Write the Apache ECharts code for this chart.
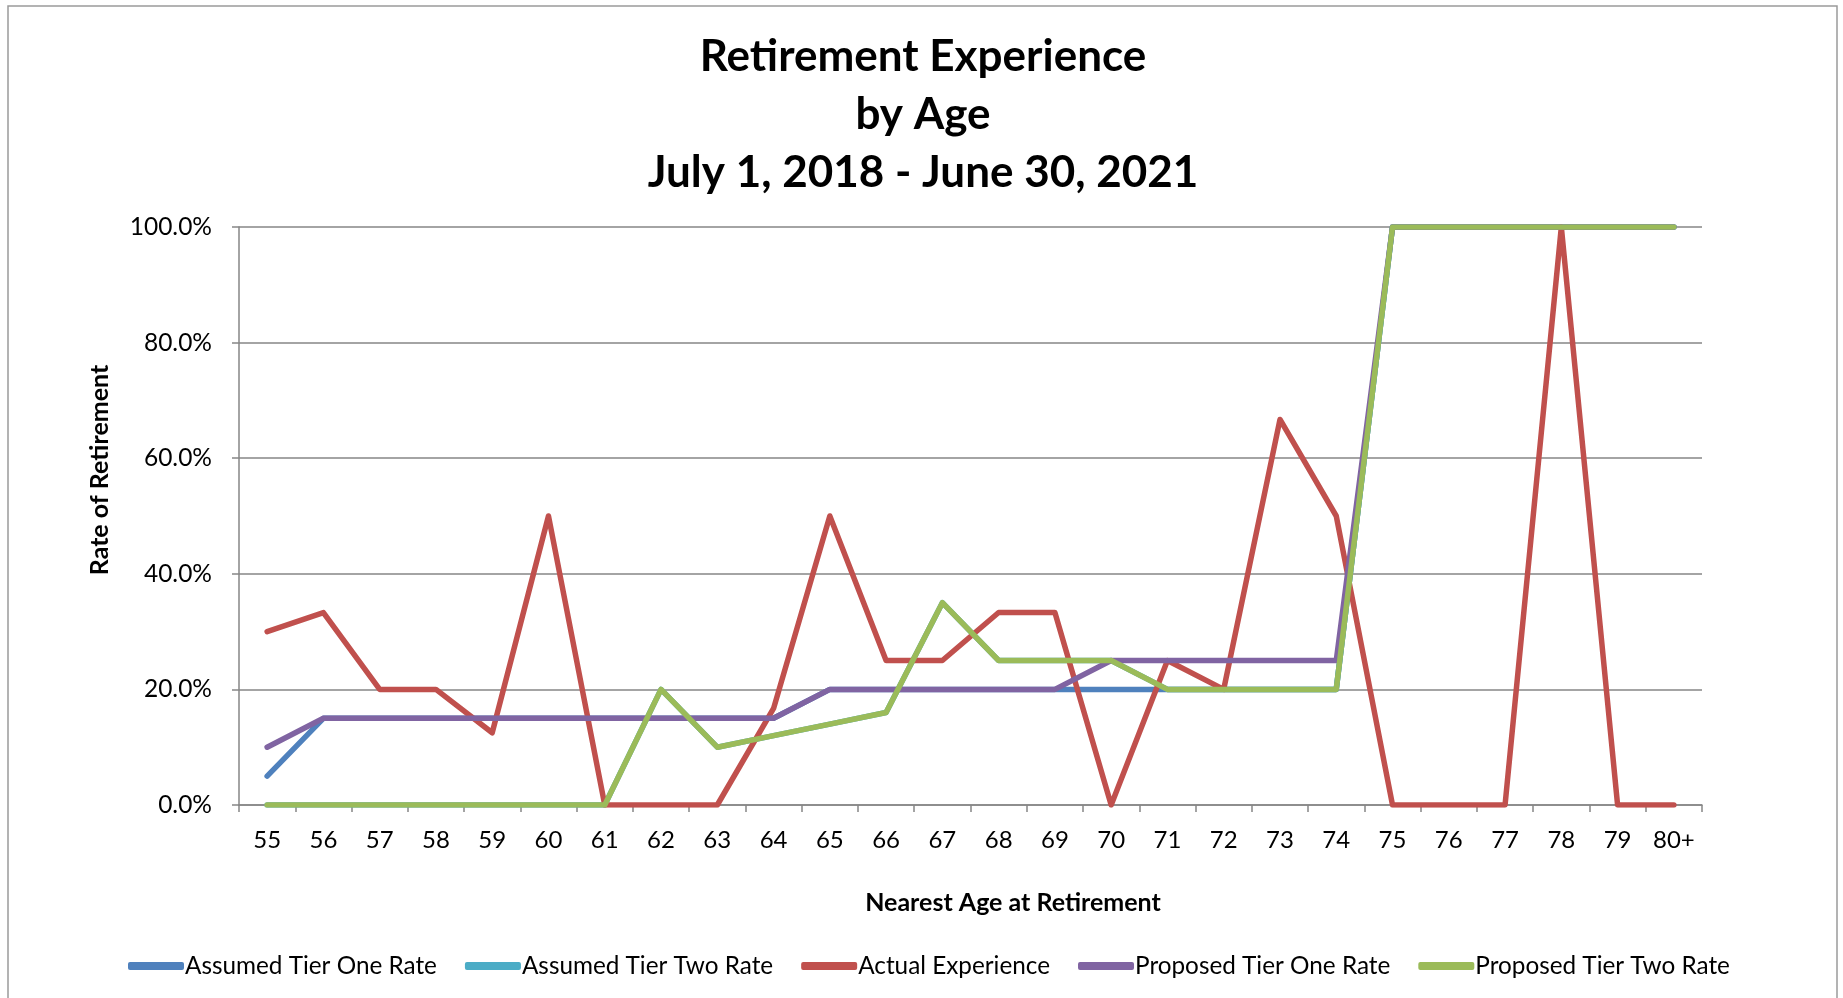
<!DOCTYPE html>
<html>
<head>
<meta charset="utf-8">
<script src="https://cdn.jsdelivr.net/npm/echarts@6/dist/echarts.min.js"></script>
<style>
  html, body { margin: 0; padding: 0; background: #fff; }
  #charts { width: 1843px; height: 998px; }
</style>
</head>
<body>
<div id="charts"></div>
<script>
// ages on the x axis
var ages = ["55", "56", "57", "58", "59", "60", "61", "62", "63", "64", "65", "66", "67",
    "68", "69", "70", "71", "72", "73", "74", "75", "76", "77", "78", "79", "80+"];
// rates in percent
var assumedTierOne = [5, 15, 15, 15, 15, 15, 15, 15, 15, 15, 20, 20, 20,
    20, 20, 20, 20, 20, 20, 20, 100, 100, 100, 100, 100, 100];
var assumedTierTwo = [0, 0, 0, 0, 0, 0, 0, 20, 10, 12, 14, 16, 35,
    25, 25, 25, 20, 20, 20, 20, 100, 100, 100, 100, 100, 100];
var actualExperience = [30, 33.3, 20, 20, 12.5, 50, 0, 0, 0, 16.7, 50, 25, 25,
    33.3, 33.3, 0, 25, 20, 66.7, 50, 0, 0, 0, 100, 0, 0];
var proposedTierOne = [10, 15, 15, 15, 15, 15, 15, 15, 15, 15, 20, 20, 20,
    20, 20, 25, 25, 25, 25, 25, 100, 100, 100, 100, 100, 100];
var proposedTierTwo = [0, 0, 0, 0, 0, 0, 0, 20, 10, 12, 14, 16, 35,
    25, 25, 25, 20, 20, 20, 20, 100, 100, 100, 100, 100, 100];
var yTicks = [0, 20, 40, 60, 80, 100];

const charts = echarts.init(document.getElementById('charts'));
var font = "Lato, 'Open Sans', sans-serif";
var gridColor = "#868686";

function lineSeries(name, color, data) {
    return {
        name: name,
        type: "line",
        symbol: "none",
        data: data,
        lineStyle: { color: color, width: 5.5, join: "round", cap: "round" },
        itemStyle: { color: color },
        emphasis: { disabled: true },
    };
}

let option = {
    animation: false,
    textStyle: { fontFamily: font },
    title: [
        {
            text: "Retirement Experience\nby Age\nJuly 1, 2018 - June 30, 2021",
            left: 923,
            top: 28,
            textAlign: "center",
            padding: 0,
            textStyle: {
                fontFamily: font,
                fontSize: 44,
                fontWeight: "bold",
                color: "#000",
                lineHeight: 58,
            },
        },
        {
            text: "Nearest Age at Retirement",
            left: 1013,
            top: 890,
            textAlign: "center",
            padding: 0,
            textStyle: { fontFamily: font, fontSize: 25, fontWeight: "bold", color: "#000" },
        },
    ],
    graphic: [
        {
            type: "rect",
            shape: { x: 8, y: 6, width: 1829, height: 1000 },
            style: { fill: null, stroke: "#9a9a9a", lineWidth: 1.5 },
            silent: true,
        },
        {
            type: "text",
            x: 100,
            y: 470,
            rotation: Math.PI / 2,
            style: {
                text: "Rate of Retirement",
                font: "bold 25px " + font,
                fill: "#000",
                align: "center",
                verticalAlign: "middle",
            },
            silent: true,
        },
    ],
    grid: {
        left: 239,
        right: 141,
        top: 227,
        bottom: 193,
        containLabel: false,
    },
    legend: {
        data: ["Assumed Tier One Rate", "Assumed Tier Two Rate", "Actual Experience",
            "Proposed Tier One Rate", "Proposed Tier Two Rate"],
        left: 123,
        top: 949,
        itemWidth: 56,
        itemHeight: 8,
        itemGap: 28,
        icon: "roundRect",
        textStyle: { fontFamily: font, fontSize: 24.3, color: "#000", padding: [0, 0, 0, -4] },
    },
    xAxis: {
        type: "category",
        data: ages,
        boundaryGap: true,
        axisLine: { lineStyle: { color: gridColor, width: 1.5 } },
        axisTick: { show: true, length: 7, lineStyle: { color: gridColor, width: 1.5 } },
        axisLabel: { color: "#000", fontSize: 24, margin: 23, fontFamily: font },
    },
    yAxis: {
        type: "value",
        min: yTicks[0],
        max: yTicks[yTicks.length - 1],
        interval: 20,
        axisLine: { show: true, lineStyle: { color: gridColor, width: 1.5 } },
        axisTick: { show: true, length: 7, lineStyle: { color: gridColor, width: 1.5 } },
        splitLine: { show: true, lineStyle: { color: gridColor, width: 1.5 } },
        axisLabel: {
            color: "#000",
            fontSize: 24.5,
            margin: 27,
            fontFamily: font,
            formatter: function (v) { return v.toFixed(1) + "%"; },
        },
    },
    series: [
        lineSeries("Assumed Tier One Rate", "#4F81BD", assumedTierOne),
        lineSeries("Assumed Tier Two Rate", "#4BACC6", assumedTierTwo),
        lineSeries("Actual Experience", "#C0504D", actualExperience),
        lineSeries("Proposed Tier One Rate", "#8064A2", proposedTierOne),
        lineSeries("Proposed Tier Two Rate", "#9BBB59", proposedTierTwo),
    ],
};

charts.setOption(option);
</script>
</body>
</html>
